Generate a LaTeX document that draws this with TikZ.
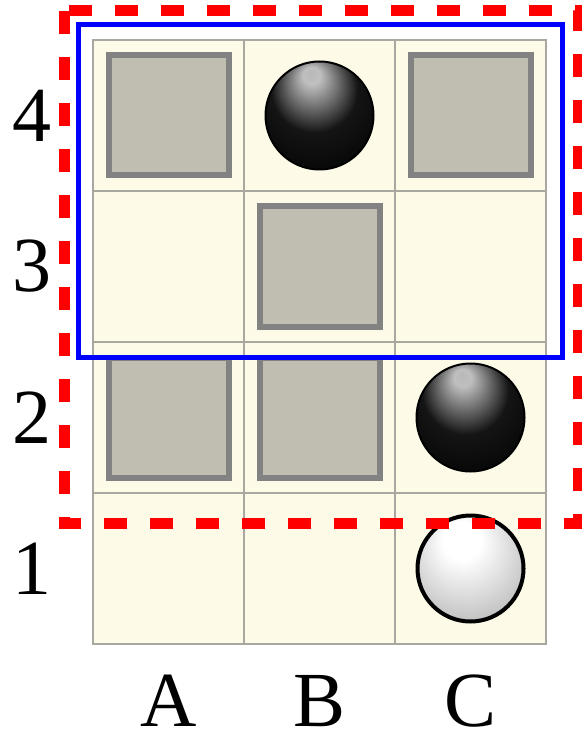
\documentclass[tikz,border=0pt]{standalone}
\usepackage{fontspec}
\setmainfont{Liberation Serif}
\definecolor{boardfill}{HTML}{FDFAE7}
\definecolor{gridline}{HTML}{A9A8A0}
\definecolor{blockfill}{HTML}{C0BEB1}
\definecolor{blockedge}{HTML}{828282}
\pgfdeclareradialshading{blackball}{\pgfpoint{-4bp}{20bp}}{%
	color(0bp)=(gray!55); color(4bp)=(gray!50); color(20bp)=(black!92);
	color(40bp)=(black); color(50bp)=(black)}
\pgfdeclareradialshading{whiteball}{\pgfpoint{-5bp}{16bp}}{%
	color(0bp)=(white); color(9bp)=(white); color(32bp)=(gray!50);
	color(50bp)=(gray!72)}

\begin{document}
\begin{tikzpicture}[
		x=0.5pt, y=-0.5pt,
		cell/.style={
			rectangle,
			draw=gridline,
			line width=0.8pt,
			fill=boardfill,
			minimum size=75.5pt,
			inner sep=0pt,
			outer sep=0pt
		},
		block/.style={
			rectangle,
			draw=blockedge,
			line width=3pt,
			fill=blockfill,
			minimum size=60pt,
			inner sep=0pt
		},
		blackstone/.style={
			circle,
			draw=black,
			line width=1pt,
			shading=blackball,
			minimum size=54pt,
			inner sep=0pt
		},
		whitestone/.style={
			circle,
			draw=black,
			line width=2pt,
			shading=whiteball,
			minimum size=53pt,
			inner sep=0pt
		},
		coordlabel/.style={
			font=\fontsize{39}{39}\selectfont,
			inner sep=0pt
		}
		]
		\useasboundingbox (0,0) rectangle (582,737);

		% board
		\foreach \col [count=\i from 0] in {A,B,C} {
			\foreach \row in {1,...,4} {
				\node[cell] (\col\row) at ({93+151*\i+75.5}, {40+151*(4-\row)+75.5}) {};
			}
			\node[coordlabel] (lab\col) at ({93+151*\i+75.5}, 701) {\col};
		}
		\foreach \row in {1,...,4}
			\node[coordlabel] (lab\row) at (32, {40+151*(4-\row)+75.5}) {\row};

		% blocked cells
		\foreach \pos in {A4,C4,B3,A2,B2}
			\node[block] (blk\pos) at (\pos) {};

		% stones
		\node[blackstone] (stoneB4) at (B4) {};
		\node[blackstone] (stoneC2) at (C2) {};
		\node[whitestone] (stoneC1) at (C1) {};

		% regions
		\draw[blue, line width=2.5pt] (78,25) rectangle (562,357);
		\draw[red, line width=5.5pt, dash pattern=on 11.5pt off 11.5pt] (64,11) rectangle (578,523);
	\end{tikzpicture}
\end{document}
